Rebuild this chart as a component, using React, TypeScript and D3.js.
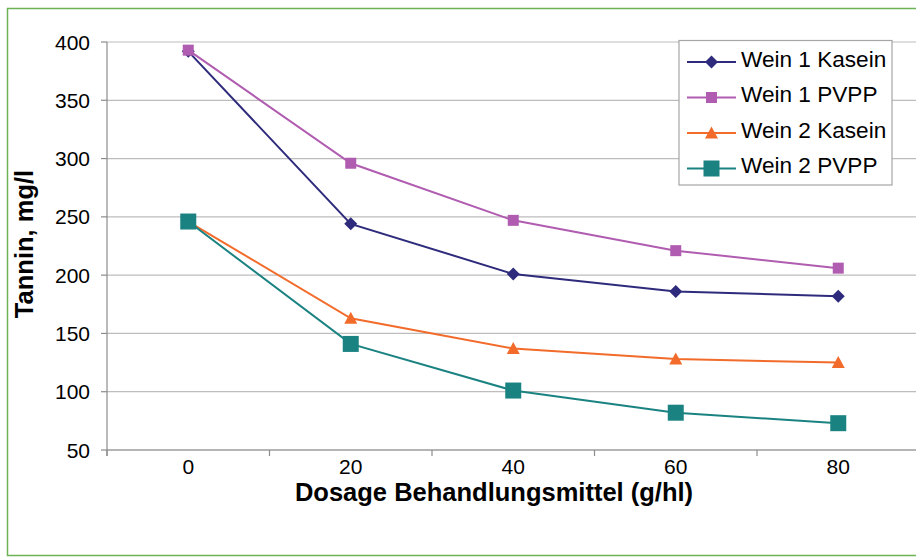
import React from "react";
import * as d3 from "d3";

const categories = ["0", "20", "40", "60", "80"];
const yTicks = [50, 100, 150, 200, 250, 300, 350, 400];
const seriesNames = ["Wein 1 Kasein", "Wein 1 PVPP", "Wein 2 Kasein", "Wein 2 PVPP"];
const wein1Kasein = [392, 244, 201, 186, 182];
const wein1PVPP = [393, 296, 247, 221, 206];
const wein2Kasein = [246, 163, 137, 128, 125];
const wein2PVPP = [246, 141, 101, 82, 73];

const seriesValues = [wein1Kasein, wein1PVPP, wein2Kasein, wein2PVPP];
const colors = ["#2e2b7c", "#b05cb0", "#f26b2a", "#1b8282"];
const markers = ["diamond", "smallSquare", "triangle", "bigSquare"];

const FONT = "Arial, 'Liberation Sans', sans-serif";

function Marker({ type, x, y, color }: { type: string; x: number; y: number; color: string }) {
  if (type === "diamond") {
    const s = 6.5;
    return <path d={`M${x},${y - s}L${x + s},${y}L${x},${y + s}L${x - s},${y}Z`} fill={color} />;
  }
  if (type === "smallSquare") {
    const s = 5.5;
    return <rect x={x - s} y={y - s} width={2 * s} height={2 * s} fill={color} />;
  }
  if (type === "triangle") {
    const s = 6.5;
    return <path d={`M${x},${y - s}L${x + s},${y + s * 0.85}L${x - s},${y + s * 0.85}Z`} fill={color} />;
  }
  const s = 8;
  return <rect x={x - s} y={y - s} width={2 * s} height={2 * s} fill={color} />;
}

export default function App() {
  const W = 916;
  const H = 557;
  const left = 107;
  const right = 919.5;
  const top = 42;
  const bottom = 450;

  const xBand = d3.scaleBand<string>().domain(categories).range([left, right]).padding(0);
  const xc = (c: string) => (xBand(c) as number) + xBand.bandwidth() / 2;
  const y = d3.scaleLinear().domain([50, 400]).range([bottom, top]);

  const line = d3
    .line<number>()
    .x((_, i) => xc(categories[i]))
    .y((v) => y(v));

  const boundaries = categories.map((c) => xBand(c) as number);

  const legendX = 679;
  const legendY = 40.5;
  const legendW = 213;
  const legendH = 144.5;
  const legendRowY = (i: number) => 62 + i * 35.5;

  return (
    <svg
      width={W}
      height={H}
      style={{ position: "absolute", left: 0, top: 0, background: "#fff" }}
      fontFamily={FONT}
    >
      <rect x={0} y={0} width={W} height={H} fill="#fff" />
      <rect x={7.5} y={8.5} width={W + 20} height={547} fill="none" stroke="#6cb356" strokeWidth={1.5} />

      {/* gridlines */}
      {yTicks.map((t) => (
        <line key={"g" + t} x1={left} x2={W} y1={y(t)} y2={y(t)} stroke="#bdbdbd" strokeWidth={1.2} />
      ))}

      {/* axes */}
      <line x1={left} x2={left} y1={top} y2={bottom + 6} stroke="#8c8c8c" strokeWidth={1.2} />
      <line x1={left} x2={W} y1={bottom} y2={bottom} stroke="#8c8c8c" strokeWidth={1.2} />
      {yTicks.map((t) => (
        <line key={"yt" + t} x1={left - 6} x2={left} y1={y(t)} y2={y(t)} stroke="#8c8c8c" strokeWidth={1.2} />
      ))}
      {boundaries.map((b, i) => (
        <line key={"xt" + i} x1={b} x2={b} y1={bottom} y2={bottom + 6} stroke="#8c8c8c" strokeWidth={1.2} />
      ))}

      {/* tick labels */}
      {yTicks.map((t) => (
        <text key={"yl" + t} x={90} y={y(t) + 7.5} textAnchor="end" fontSize={21} fill="#000">
          {t}
        </text>
      ))}
      {categories.map((c) => (
        <text key={"xl" + c} x={xc(c)} y={474} textAnchor="middle" fontSize={21} fill="#000">
          {c}
        </text>
      ))}

      {/* titles */}
      <text x={494} y={501} textAnchor="middle" fontSize={25.5} fontWeight="bold" fill="#000">
        Dosage Behandlungsmittel (g/hl)
      </text>
      <text
        transform={`translate(33,244) rotate(-90)`}
        textAnchor="middle"
        fontSize={25.5}
        fontWeight="bold"
        fill="#000"
      >
        Tannin, mg/l
      </text>

      {/* series */}
      {seriesValues.map((vals, si) => (
        <g key={"s" + si}>
          <path d={line(vals) as string} fill="none" stroke={colors[si]} strokeWidth={2} />
          {vals.map((v, i) => (
            <Marker key={i} type={markers[si]} x={xc(categories[i])} y={y(v)} color={colors[si]} />
          ))}
        </g>
      ))}

      {/* legend */}
      <rect x={legendX} y={legendY} width={legendW} height={legendH} fill="#fff" stroke="#a6a6a6" strokeWidth={1.2} />
      {seriesNames.map((n, i) => (
        <g key={"l" + i}>
          <line x1={687} x2={736} y1={legendRowY(i)} y2={legendRowY(i)} stroke={colors[i]} strokeWidth={2} />
          <Marker type={markers[i]} x={711.5} y={legendRowY(i)} color={colors[i]} />
          <text x={741} y={legendRowY(i) + 4.5} fontSize={22.6} fill="#000">
            {n}
          </text>
        </g>
      ))}
    </svg>
  );
}
